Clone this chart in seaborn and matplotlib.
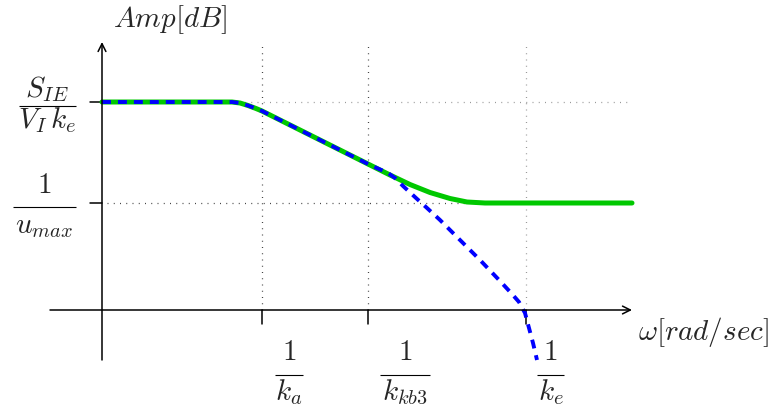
import matplotlib
matplotlib.use("Agg")
import matplotlib.pyplot as plt
import seaborn as sns
import numpy as np

sns.set_theme(style="white")
plt.rcParams['mathtext.fontset'] = 'cm'
plt.rcParams['font.family'] = ['DejaVu Sans']

# --- data ---
green_w = [0, 1.30, 1.38, 1.46, 1.54, 1.60, 2.68, 2.88, 3.08, 3.28, 3.48, 3.65, 3.83, 5.30]
green_amp = [2.08, 2.08, 2.07, 2.045, 2.015, 1.99, 1.45, 1.35, 1.255, 1.175, 1.115, 1.08, 1.07, 1.07]

blue_w = [0, 1.30, 1.38, 1.46, 1.54, 1.60, 2.68, 2.77, 2.86, 2.93, 3.01, 3.14, 3.25, 3.38, 3.58, 3.78,
          3.98, 4.10, 4.17, 4.23, 4.31, 4.35]
blue_amp = [2.08, 2.08, 2.07, 2.045, 2.015, 1.99, 1.45, 1.41, 1.37, 1.32, 1.24, 1.12, 1.02, 0.90, 0.70, 0.50,
            0.29, 0.16, 0.08, -0.03, -0.33, -0.50]

x_ticks = [1.60, 2.66, 4.24]
x_tick_num = [r'$1$', r'$1$', r'$1$']
x_tick_den = [r'$k_a$', r'$k_{kb3}$', r'$k_e$']
y_ticks = [2.08, 1.07]
y_tick_num = [r'$S_{IE}$', r'$1$']
y_tick_den = [r'$V_I\,k_e$', r'$u_{max}$']

fig = plt.figure(figsize=(7.77, 4.13), dpi=100)
ax = fig.add_axes([0, 0, 1, 1])
ax.set_xlim(-1.02, 6.75)
ax.set_ylim(-1.03, 3.10)
ax.axis('off')

dot = (0, (0.8, 4.2))
# grid (dotted)
ax.plot([x_ticks[0]] * 2, [0, 2.65], color='#444444', lw=0.9, ls=dot)
ax.plot([x_ticks[1]] * 2, [0, 2.65], color='#444444', lw=0.9, ls=dot)
ax.plot([x_ticks[2]] * 2, [0, 2.64], color='#999999', lw=0.9, ls=dot)
ax.plot([0.05, 5.25], [y_ticks[0]] * 2, color='#999999', lw=0.9, ls=dot)
ax.plot([0.05, 3.65], [y_ticks[1]] * 2, color='#444444', lw=0.9, ls=dot)

# axes with arrows
ax.annotate('', xy=(5.30, 0), xytext=(-0.52, 0),
            arrowprops=dict(arrowstyle='->', lw=1.1, color='black', mutation_scale=14, shrinkA=0, shrinkB=0))
ax.annotate('', xy=(0, 2.68), xytext=(0, -0.50),
            arrowprops=dict(arrowstyle='->', lw=1.1, color='black', mutation_scale=14, shrinkA=0, shrinkB=0))

# ticks
for xt in x_ticks:
    ax.plot([xt, xt], [0, -0.14], color='black', lw=1.1)
for yt in y_ticks:
    ax.plot([-0.12, 0], [yt, yt], color='black', lw=1.1)

# curves
sns.lineplot(x=green_w, y=green_amp, sort=False, estimator=None, color='#00c800', linewidth=3.6, ax=ax)
sns.lineplot(x=blue_w, y=blue_amp, sort=False, estimator=None, color='#0000ff', linewidth=2.8, ax=ax,
             linestyle=(0, (2.3, 1.8)))
for ln in ax.lines[-2:]:
    ln.set_solid_joinstyle('round')
    ln.set_dash_joinstyle('round')

fs = 21
bar_lw = 0.8


def frac(cx, y_num, y_bar, y_den, x0, x1, num, den):
    ax.text(cx, y_num, num, ha='center', va='baseline', fontsize=fs)
    ax.plot([x0, x1], [y_bar, y_bar], color='black', lw=bar_lw, solid_capstyle='butt')
    ax.text(cx, y_den, den, ha='center', va='baseline', fontsize=fs)


def py(p):
    return (310 - p) / 100.0


def px(p):
    return (p - 102) / 100.0


# x tick labels
for (c, b0, b1), n, d in zip([(289, 275, 303), (405, 380, 430), (550.5, 537, 564)], x_tick_num, x_tick_den):
    frac(px(c), py(360), py(375), py(400), px(b0), px(b1), n, d)

# y tick labels
frac(px(47.5), py(97), py(106), py(128), px(19), px(76), y_tick_num[0], y_tick_den[0])
frac(px(44.5), py(193), py(207), py(233), px(13), px(76), y_tick_num[1], y_tick_den[1])

ax.text(0.68, py(27), r'$Amp[dB]$', ha='center', va='baseline', fontsize=fs)
ax.text(px(638), py(340), r'$\omega[rad/sec]$', ha='left', va='baseline', fontsize=fs)

fig.savefig('out.png', dpi=100)
